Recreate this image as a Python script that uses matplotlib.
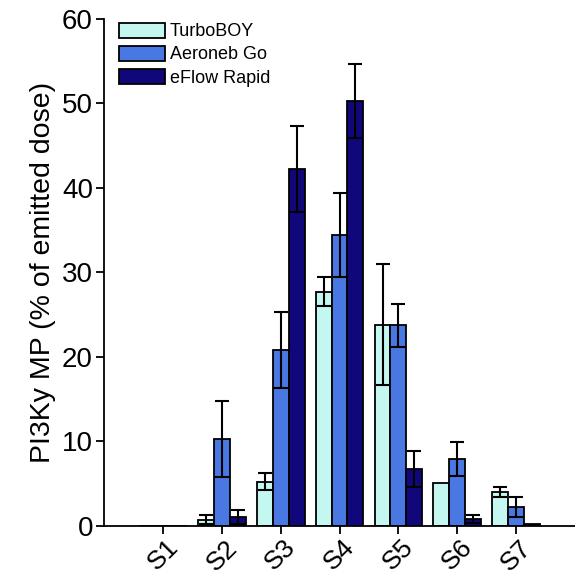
import numpy as np
import matplotlib
matplotlib.use("Agg")
import matplotlib.pyplot as plt

plt.rcParams['font.family'] = ['Liberation Sans', 'DejaVu Sans']

stages = ["S1", "S2", "S3", "S4", "S5", "S6", "S7"]
devices = ["TurboBOY", "Aeroneb Go", "eFlow Rapid"]

turbo = [0.0, 0.7, 5.2, 27.7, 23.8, 5.0, 4.0]
turbo_err = [0.0, 0.5, 1.0, 1.7, 7.2, 0.0, 0.6]
aeroneb = [0.0, 10.3, 20.8, 34.4, 23.7, 7.9, 2.2]
aeroneb_err = [0.0, 4.5, 4.5, 5.0, 2.5, 2.0, 1.2]
eflow = [0.0, 1.0, 42.2, 50.3, 6.7, 0.8, 0.2]
eflow_err = [0.0, 0.8, 5.1, 4.4, 2.1, 0.5, 0.0]

colors = ["#C4F7F0", "#4A78E2", "#10087A"]

fig = plt.figure(figsize=(5.75, 5.75), dpi=100)
ax = fig.add_axes([0.181, 0.086, 0.819, 0.881])

x = np.arange(1, len(stages) + 1)
w = 0.27
series = [(turbo, turbo_err), (aeroneb, aeroneb_err), (eflow, eflow_err)]
for i, (vals, errs) in enumerate(series):
    pos = x + (i - 1) * w
    ax.bar(pos, vals, w, color=colors[i], edgecolor="black", linewidth=1.3,
           label=devices[i], zorder=2)
    e = np.array(errs)
    mask = e > 0
    ax.errorbar(pos[mask], np.array(vals)[mask], yerr=e[mask], fmt="none",
                ecolor="black", elinewidth=1.5, capsize=5, capthick=1.5, zorder=3)

ax.set_xlim(0, 8)
ax.set_ylim(0, 60)
ax.set_yticks(range(0, 61, 10))
ax.set_xticks(x)
ax.set_xticklabels(stages, rotation=45, ha="center", va="top")
ax.tick_params(axis="both", labelsize=20, direction="out", length=6, width=1.3)
ax.tick_params(axis="x", pad=1, labelsize=19)
ax.tick_params(axis="y", pad=2)
ax.spines["top"].set_visible(False)
ax.spines["right"].set_visible(False)
ax.spines["left"].set_linewidth(1.3)
ax.spines["bottom"].set_linewidth(1.3)
ax.set_ylabel("PI3Ky MP (% of emitted dose)", fontsize=20.5, labelpad=4)

leg = ax.legend(loc="upper left", bbox_to_anchor=(0.025, 1.0), fontsize=13,
                frameon=False, handlelength=2.5, handleheight=0.9,
                handletextpad=0.3, labelspacing=0.3, borderaxespad=0.0,
                borderpad=0.2)

fig.savefig("out.png", dpi=100)
